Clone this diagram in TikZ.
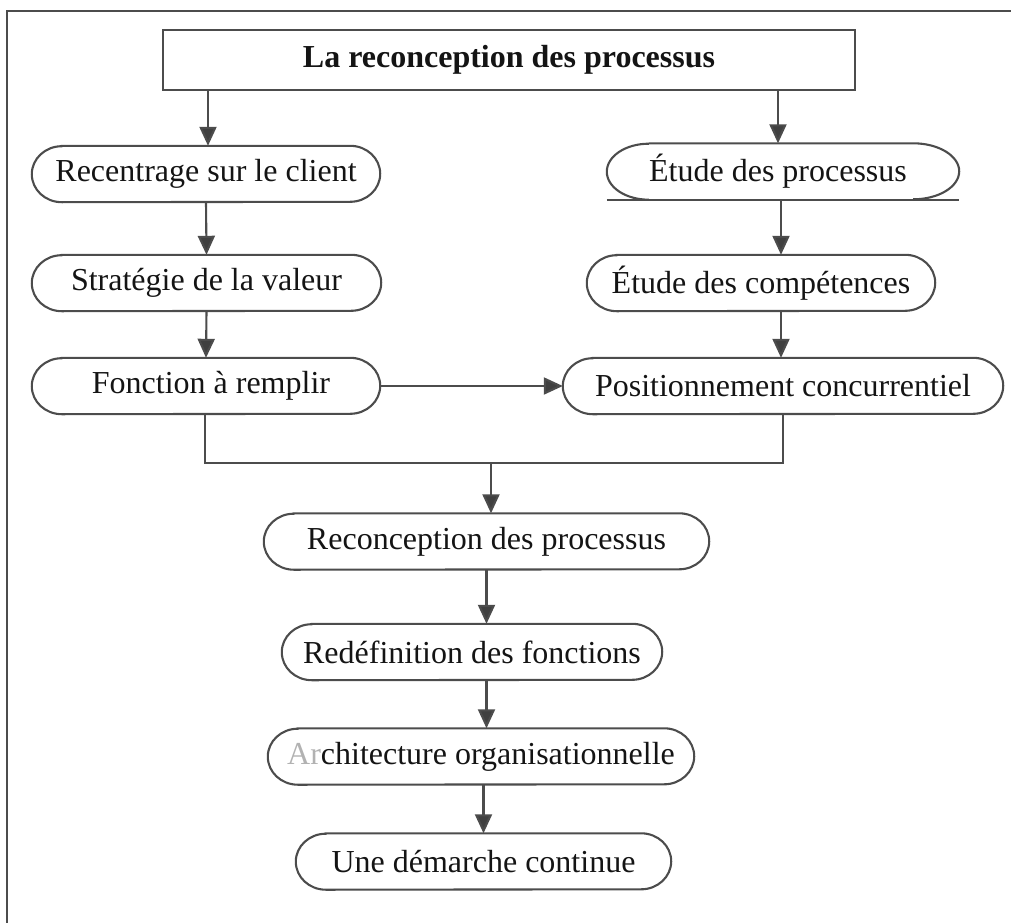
\documentclass[tikz,border=0pt]{standalone}
\usepackage{fontspec}
\setmainfont{Liberation Serif}
\usetikzlibrary{arrows.meta}
\definecolor{linegray}{HTML}{4C4C4C}
\definecolor{tipgray}{HTML}{404040}
\definecolor{inkcol}{HTML}{141414}
\begin{document}
\begin{tikzpicture}[x=1pt,y=-1pt,
  line/.style={draw=linegray,line width=2.1pt},
  arr/.style={line,-{Triangle[width=17pt,length=19pt,fill=tipgray]}},
  stepnode/.style={rectangle,inner sep=0pt,minimum height=56pt,text=inkcol,
    font=\fontsize{32}{38}\selectfont},
  titlebox/.style={rectangle,line,inner sep=0pt,minimum width=692pt,minimum height=60pt,
    text=inkcol,font=\fontsize{32}{38}\selectfont\bfseries}]
\useasboundingbox (0,0) rectangle (1011,923);

% outer frame (top and left edges)
\draw[line] (1011,11) -- (7,11) -- (7,923);

% title
\node[titlebox] (title) at (509,60) {La reconception des processus};

% left column
\node[stepnode,minimum width=348pt] (rc) at (206,174) {Recentrage sur le client};
\node[stepnode,minimum width=349pt] (sv) at (206.5,283) {Stratégie de la valeur};
\node[stepnode,minimum width=348pt] (fr) at (206,386) {\hspace*{10pt}Fonction à remplir};

% right column
\node[stepnode,minimum width=352pt] (ep) at (783,171.5) {\hspace*{-10pt}Étude des processus};
\node[stepnode,minimum width=348pt] (ec) at (761,283) {Étude des compétences};
\node[stepnode,minimum width=440pt] (pc) at (783,386) {Positionnement concurrentiel};

% centre column
\node[stepnode,minimum width=445pt] (rp) at (486.5,541.5) {Reconception des processus};
\node[stepnode,minimum width=380pt] (rf) at (472,652) {Redéfinition des fonctions};
\node[stepnode,minimum width=426pt] (ao) at (481,756.5) {{\color{gray!60}Ar}chitecture organisationnelle};
\node[stepnode,minimum width=375pt] (ud) at (483.5,861.5) {Une démarche continue};

% rounded-end outlines
\foreach \n in {rc,sv,fr,ec,pc,rp,rf,ao,ud}{
  \draw[line] ([xshift=30pt]\n.north west) -- ([xshift=-30pt]\n.north east)
    arc[start angle=90,end angle=-90,x radius=30pt,y radius=28pt]
    -- ([xshift=30pt]\n.south west)
    arc[start angle=270,end angle=90,x radius=30pt,y radius=28pt] -- cycle;
}
\draw[line] ([xshift=42pt]ep.north west) -- ([xshift=-46pt]ep.north east)
  arc[start angle=90,end angle=-90,x radius=46pt,y radius=28pt];
\draw[line] ([xshift=42pt]ep.south west)
  arc[start angle=270,end angle=90,x radius=42pt,y radius=28pt];
\draw[line] (ep.south west) -- (ep.south east);

% connectors
\draw[arr] (title.south -| 208,0) -- (208,0 |- rc.north);
\draw[arr] (title.south -| 778,0) -- (778,0 |- ep.north);
\draw[arr] (rc.south) -- (sv.north);
\draw[arr] (sv.south) -- (fr.north);
\draw[arr] (ep.south -| 781,0) -- (781,0 |- ec.north);
\draw[arr] (ec.south -| 781,0) -- (781,0 |- pc.north);
\draw[arr] (fr.east) -- (pc.west);

% merge of the two columns
\coordinate (jl) at (205,463);
\coordinate (jr) at (783,463);
\coordinate (jm) at (491,463);
\draw[line] (fr.south -| jl) -- (jl) -- (jr) -- (pc.south -| jr);
\draw[arr] (jm) -- (jm |- rp.north);

\draw[arr] (rp.south) -- (rp.south |- rf.north);
\draw[arr] (rp.south |- rf.south) -- (rp.south |- ao.north);
\draw[arr] (ud.north |- ao.south) -- (ud.north);
\end{tikzpicture}
\end{document}
